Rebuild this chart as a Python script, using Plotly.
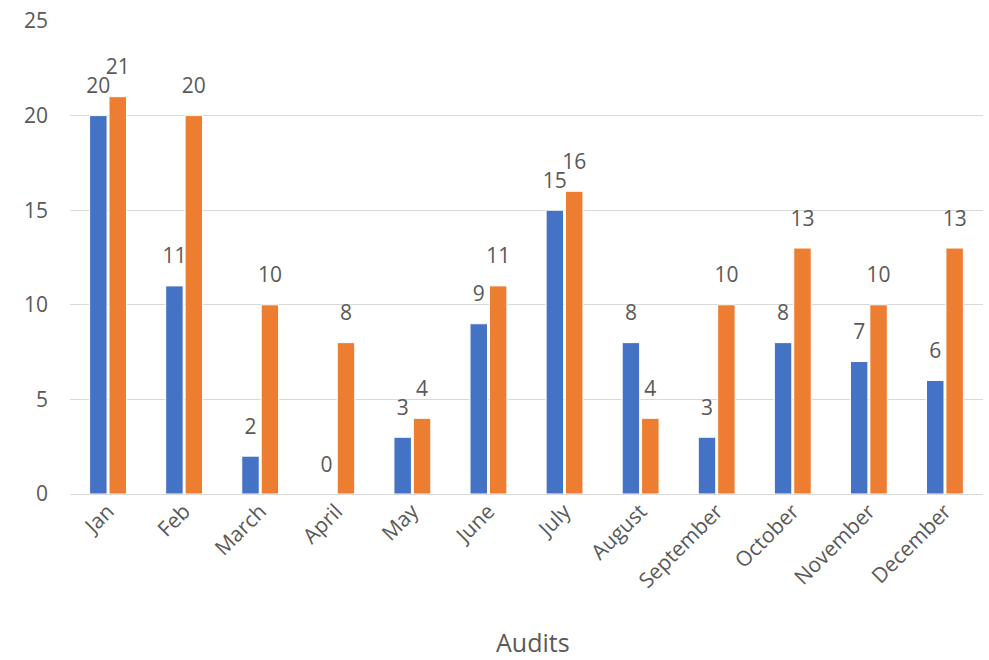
import plotly.graph_objects as go

months = ["Jan", "Feb", "March", "April", "May", "June", "July",
          "August", "September", "October", "November", "December"]
series_a = [20, 11, 2, 0, 3, 9, 15, 8, 3, 8, 7, 6]
series_b = [21, 20, 10, 8, 4, 11, 16, 4, 10, 13, 10, 13]

BLUE = "#4472C4"
ORANGE = "#ED7D31"
GRAY = "#595959"
FONT = "Open Sans, Noto Sans, sans-serif"

fig = go.Figure()
for i, (vals, color) in enumerate([(series_a, BLUE), (series_b, ORANGE)]):
    fig.add_trace(go.Bar(
        x=months, y=vals,
        marker=dict(color=color, line=dict(color="white", width=1)),
        offsetgroup=str(i),
        showlegend=False,
    ))
    # value labels, grouped alongside the bars and lifted by an invisible marker
    fig.add_trace(go.Scatter(
        x=months, y=vals,
        mode="markers+text",
        text=[str(v) for v in vals],
        textposition="top center",
        textfont=dict(size=21, color=GRAY, family=FONT),
        marker=dict(size=26, opacity=0),
        offsetgroup=str(i),
        cliponaxis=False,
        hoverinfo="skip",
        showlegend=False,
    ))

# x-axis title placed below the rotated month labels
fig.add_annotation(
    text="Audits", xref="paper", yref="paper",
    x=0.507, y=-0.312, xanchor="center", yanchor="middle",
    showarrow=False, font=dict(size=25, color=GRAY, family=FONT),
)

fig.update_layout(
    width=989, height=660,
    margin=dict(l=70, r=6, t=21, b=166),
    paper_bgcolor="white", plot_bgcolor="white",
    barmode="group", bargap=0.49, bargroupgap=0.1,
    scattermode="group", scattergap=0.49,
    font=dict(family=FONT, color=GRAY, size=21),
    xaxis=dict(
        automargin=False,
        tickangle=-45,
        tickfont=dict(size=21, color=GRAY),
        showgrid=False, showline=False, ticks="",
    ),
    yaxis=dict(
        automargin=False,
        range=[0, 25], dtick=5,
        tickfont=dict(size=21, color=GRAY),
        gridcolor="#D9D9D9", gridwidth=1,
        zeroline=True, zerolinecolor="#D9D9D9", zerolinewidth=1,
        showline=False, ticks="", ticklabelstandoff=21,
    ),
)

fig.write_html("out.html")
